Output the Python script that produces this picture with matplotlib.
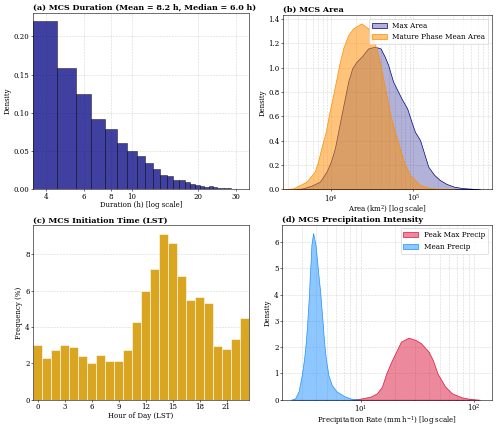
import numpy as np
import matplotlib.pyplot as plt
from matplotlib.colors import to_rgba
from matplotlib.ticker import NullLocator, ScalarFormatter

plt.rcParams['font.family'] = 'serif'
plt.rcParams['font.serif'] = ['DejaVu Serif']
plt.rcParams['mathtext.fontset'] = 'dejavuserif'

# (a) duration histogram: 1-h bins centred on these durations
dur_hours = list(range(4, 35))
dur_density = [0.220, 0.159, 0.125, 0.0925, 0.079, 0.061, 0.050, 0.0435, 0.0345, 0.027,
               0.0185, 0.0172, 0.0128, 0.0119, 0.0093, 0.0068, 0.0062, 0.0048, 0.0036, 0.0040,
               0.0027, 0.0022, 0.0018, 0.0015, 0.0011, 0.0009, 0.0007, 0.0005, 0.0004, 0.0003, 0.0002]

# (b) area KDE curves (log10 km2, density)
max_area_log = [3.55, 3.66, 3.76, 3.863, 3.943, 3.996, 4.045, 4.085, 4.125, 4.166, 4.207, 4.255,
                4.308, 4.368, 4.45, 4.531, 4.60, 4.652, 4.693, 4.753, 4.854, 4.923, 4.976, 5.017,
                5.08, 5.18, 5.25, 5.32, 5.40, 5.49, 5.60, 5.81]
max_area_den = [0.0, 0.008, 0.03, 0.063, 0.145, 0.227, 0.337, 0.474, 0.611, 0.748, 0.885, 0.995,
                1.05, 1.09, 1.159, 1.173, 1.159, 1.09, 1.022, 0.885, 0.748, 0.666, 0.556, 0.474,
                0.405, 0.186, 0.12, 0.077, 0.045, 0.022, 0.01, 0.0]
mature_area_log = [3.42, 3.54, 3.70, 3.80, 3.84, 3.88, 3.935, 3.972, 4.016, 4.057, 4.097, 4.146,
                   4.207, 4.267, 4.368, 4.45, 4.502, 4.551, 4.60, 4.64, 4.68, 4.72, 4.774, 4.835,
                   4.883, 4.956, 5.078, 5.20, 5.35, 5.50]
mature_area_den = [0.0, 0.008, 0.063, 0.145, 0.227, 0.337, 0.474, 0.611, 0.748, 0.885, 1.022, 1.159,
                   1.269, 1.324, 1.365, 1.324, 1.242, 1.159, 1.022, 0.885, 0.748, 0.611, 0.474, 0.337,
                   0.227, 0.118, 0.036, 0.01, 0.002, 0.0]

# (c) initiation hour frequency (%)
hours = list(range(24))
init_freq = [3.0, 2.3, 2.75, 3.0, 2.9, 2.4, 2.05, 2.45, 2.15, 2.15, 2.75, 4.3,
             6.0, 7.2, 9.15, 8.65, 6.8, 5.5, 5.65, 5.35, 2.95, 2.8, 3.35, 4.5]

# (d) precipitation KDE curves (log10 mm/h, density)
peak_pr_log = [0.92, 0.994, 1.082, 1.141, 1.185, 1.223, 1.274, 1.318, 1.353, 1.42, 1.479, 1.53,
               1.597, 1.635, 1.676, 1.744, 1.803, 1.891, 1.965, 2.05]
peak_pr_den = [0.0, 0.04, 0.115, 0.245, 0.50, 1.0, 1.51, 1.9, 2.21, 2.36, 2.28, 2.15,
               1.83, 1.51, 1.0, 0.50, 0.245, 0.09, 0.03, 0.0]
mean_pr_log = [0.38, 0.417, 0.447, 0.476, 0.497, 0.512, 0.523, 0.532, 0.541, 0.547, 0.556, 0.561,
               0.576, 0.597, 0.609, 0.623, 0.638, 0.65, 0.662, 0.673, 0.688, 0.711, 0.741, 0.785,
               0.859, 0.918, 1.0]
mean_pr_den = [0.0, 0.05, 0.31, 0.94, 1.58, 2.21, 2.85, 3.48, 4.12, 4.75, 5.39, 5.90,
               6.34, 5.90, 5.39, 4.75, 4.12, 3.48, 2.85, 2.21, 1.58, 0.94, 0.56, 0.31,
               0.12, 0.03, 0.0]

fig = plt.figure(figsize=(10, 8.52), dpi=50)
ax_a = fig.add_axes([0.066, 0.5556, 0.432, 0.4146])
ax_b = fig.add_axes([0.566, 0.5556, 0.418, 0.409])
ax_c = fig.add_axes([0.066, 0.0617, 0.432, 0.4094])
ax_d = fig.add_axes([0.564, 0.0617, 0.4194, 0.4108])

title_kw = dict(loc='left', fontsize=11.5, fontweight='bold', pad=4)
grid_kw = dict(linestyle='--', color='#bbbbbb', alpha=0.6, linewidth=0.8)
lab_fs = 10

# (a)
edges = np.array(dur_hours + [dur_hours[-1] + 1]) - 0.5
ax_a.hist(dur_hours, bins=edges, weights=dur_density, color='navy', alpha=0.75,
          edgecolor='black', linewidth=0.8)
ax_a.set_xscale('log')
ax_a.set_xlim(edges[0], edges[-1])
ax_a.set_xticks([4, 6, 8, 10, 20, 30])
ax_a.xaxis.set_major_formatter(ScalarFormatter())
ax_a.xaxis.set_minor_locator(NullLocator())
ax_a.grid(True, **grid_kw)
ax_a.set_axisbelow(True)
ax_a.set_title('(a) MCS Duration (Mean = 8.2 h, Median = 6.0 h)', **title_kw)
ax_a.set_xlabel('Duration (h) [log scale]', fontsize=lab_fs, labelpad=1)
ax_a.set_ylabel('Density', fontsize=lab_fs, labelpad=3)


def kde_fill(ax, xlog, den, color, alpha, label):
    x = 10 ** np.array(xlog)
    ax.fill_between(x, den, 0, facecolor=to_rgba(color, alpha), edgecolor=color,
                    linewidth=1.0, label=label)


# (b)
kde_fill(ax_b, max_area_log, max_area_den, 'navy', 0.3, 'Max Area')
kde_fill(ax_b, mature_area_log, mature_area_den, 'darkorange', 0.52, 'Mature Phase Mean Area')
ax_b.set_xscale('log')
ax_b.set_xlim(2600, 9.0e5)
ax_b.set_ylim(0, max(mature_area_den) * 1.05)
ax_b.grid(True, which='both', **grid_kw)
ax_b.set_axisbelow(True)
ax_b.legend(loc='upper right', fontsize=10.5)
ax_b.set_title('(b) MCS Area', **title_kw)
ax_b.set_xlabel('Area (km$^2$) [log scale]', fontsize=lab_fs, labelpad=-1)
ax_b.set_ylabel('Density', fontsize=lab_fs, labelpad=3)

# (c)
ax_c.bar(hours, init_freq, width=0.9, color='goldenrod', edgecolor='white', linewidth=0.8)
ax_c.set_xlim(-0.5, 23.5)
ax_c.set_xticks(range(0, 24, 3))
ax_c.grid(True, axis='y', **grid_kw)
ax_c.set_axisbelow(True)
ax_c.set_title('(c) MCS Initiation Time (LST)', **title_kw)
ax_c.set_xlabel('Hour of Day (LST)', fontsize=lab_fs, labelpad=1)
ax_c.set_ylabel('Frequency (%)', fontsize=lab_fs, labelpad=3)

# (d)
kde_fill(ax_d, peak_pr_log, peak_pr_den, 'crimson', 0.5, 'Peak Max Precip')
kde_fill(ax_d, mean_pr_log, mean_pr_den, 'dodgerblue', 0.5, 'Mean Precip')
ax_d.set_xscale('log')
ax_d.set_xlim(2.0, 143)
ax_d.set_ylim(0, max(mean_pr_den) * 1.05)
ax_d.grid(True, which='both', **grid_kw)
ax_d.set_axisbelow(True)
ax_d.legend(loc='upper right', fontsize=10.5)
ax_d.set_title('(d) MCS Precipitation Intensity', **title_kw)
ax_d.set_xlabel('Precipitation Rate (mm h$^{-1}$) [log scale]', fontsize=lab_fs, labelpad=-1)
ax_d.set_ylabel('Density', fontsize=lab_fs, labelpad=3)

for ax in (ax_a, ax_b, ax_c, ax_d):
    ax.tick_params(labelsize=10, pad=1.5)

fig.savefig('out.png', dpi=50)
